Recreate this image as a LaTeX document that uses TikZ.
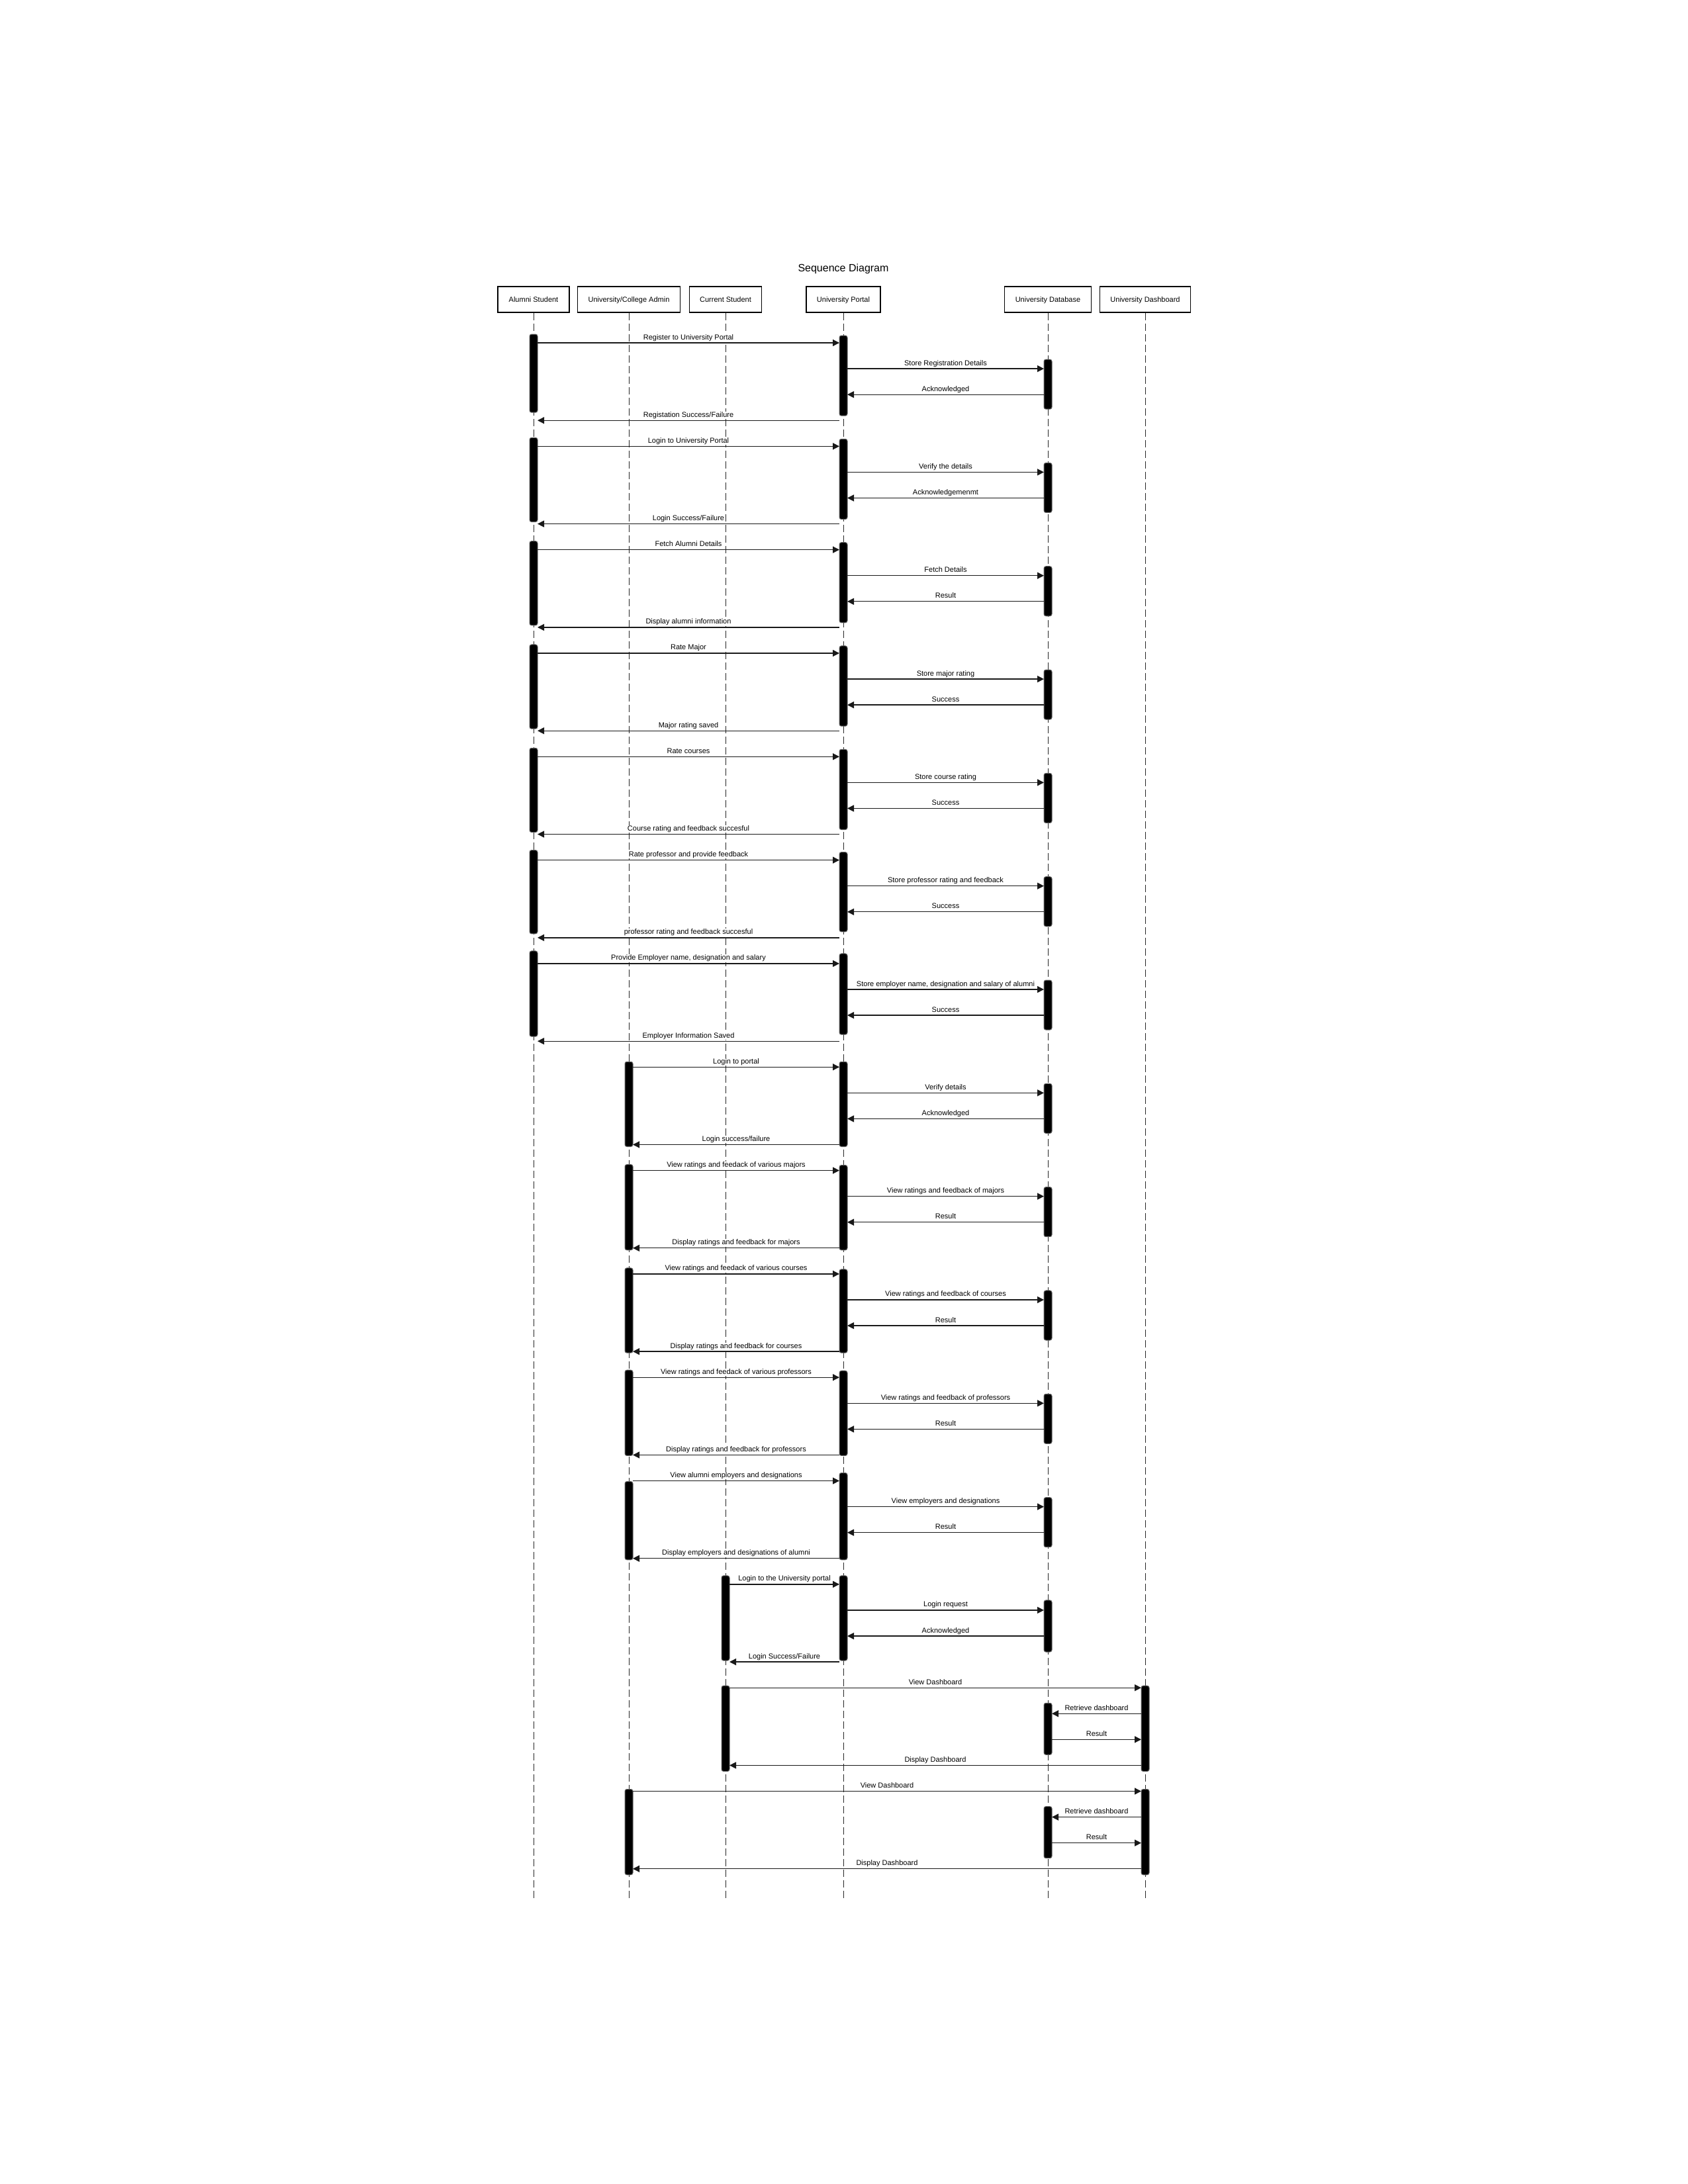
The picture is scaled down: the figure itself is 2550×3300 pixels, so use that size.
\documentclass[tikz,border=0pt]{standalone}
\usepackage{fontspec}
\setmainfont{Liberation Sans}
\usetikzlibrary{arrows.meta}
\tikzset{
  actor/.style={draw=black, line width=1.8pt, fill=white, minimum height=39pt,
    inner sep=0pt, text height=8pt, text depth=0pt, font=\fontsize{11}{13}\selectfont},
  lifeline/.style={draw=black!85, line width=1pt, dash pattern=on 11pt off 5pt},
  bar/.style={fill=black, draw=black!60, line width=1pt, rounded corners=3pt},
  msg/.style={draw=black!90, line width=1.3pt, -{Triangle[length=10pt,width=10pt]}},
  lbl/.style={font=\fontsize{11}{13}\selectfont, fill=white, inner xsep=1pt, inner ysep=0.6pt, anchor=base},
  ttl/.style={font=\fontsize{16}{19}\selectfont, inner sep=0pt, anchor=base},
}
\begin{document}
\begin{tikzpicture}[x=1pt,y=-1pt]
\useasboundingbox (0,0) rectangle (2550,3300);
\fill[white] (0,0) rectangle (2550,3300);
\node[ttl] (title) at (1274,410) {Sequence Diagram};
% actors
\node[actor, minimum width=108pt] (A) at (806,452.5) {Alumni Student};
\node[actor, minimum width=155pt] (B) at (950,452.5) {University/College Admin};
\node[actor, minimum width=109pt] (C) at (1096,452.5) {Current Student};
\node[actor, minimum width=112pt] (P) at (1274,452.5) {University Portal};
\node[actor, minimum width=131pt] (D) at (1583,452.5) {University Database};
\node[actor, minimum width=137pt] (H) at (1730,452.5) {University Dashboard};
% lifelines
\foreach \n/\x in {A/806,B/950,C/1096,P/1274,D/1583,H/1730}{
  \coordinate (\n end) at (\x,2869);
  \draw[lifeline] (\n.south) -- (\n end);
}
% activation bars for portal blocks
\foreach \k/\cx/\sa/\ea/\sp/\ep/\sd/\ed in {
  0/806/-13/-12/-11/-7/-14/22,
  1/806/-13/-3/-11/-7/-14/22,
  2/806/-13/-3/-11/-7/-14/22,
  3/806/-13/-3/-11/-7/-14/22,
  4/806/-13/-3/-11/-7/-14/22,
  5/806/-15/-6/-12/-9/-14/22,
  6/806/-19/-7/-15/-10/-14/22,
  7/950/-8/3/-8/3/-14/22,
  8/950/-9/3/-8/3/-14/22,
  9/950/-9/2/-7/2/-14/22,
  10/950/-11/1/-10/1/-14/22,
  11/950/1/2/-12/2/-14/22,
  12/1096/-13/-2/-13/-2/-15/24}{
  \pgfmathsetmacro\ya{518+(4*\k)*39.08}
  \pgfmathsetmacro\yb{\ya+39.08}
  \pgfmathsetmacro\yc{\ya+2*39.08}
  \pgfmathsetmacro\yd{\ya+3*39.08}
  \draw[bar] (\cx-6,\ya+\sa) rectangle (\cx+6,\yd+\ea);
  \draw[bar] (1268,\ya+\sp) rectangle (1280,\yd+\ep);
  \draw[bar] (1577,\yb+\sd) rectangle (1589,\yc+\ed);
}
% activation bars for dashboard blocks
\foreach \k/\cx in {13/1096,14/950}{
  \pgfmathsetmacro\ya{518+(4*\k)*39.08}
  \pgfmathsetmacro\yb{\ya+39.08}
  \pgfmathsetmacro\yc{\ya+2*39.08}
  \pgfmathsetmacro\yd{\ya+3*39.08}
  \draw[bar] (\cx-6,\ya-3) rectangle (\cx+6,\yd+9);
  \draw[bar] (1724,\ya-3) rectangle (1736,\yd+9);
  \draw[bar] (1577,\yb-16) rectangle (1589,\yc+23);
}
% messages
\foreach \i/\s/\d/\t in {
  1/806/1274/{Register to University Portal},
  2/1274/1583/{Store Registration Details},
  3/1583/1274/{Acknowledged},
  4/1274/806/{Registation Success/Failure},
  5/806/1274/{Login to University Portal},
  6/1274/1583/{Verify the details},
  7/1583/1274/{Acknowledgemenmt},
  8/1274/806/{Login Success/Failure},
  9/806/1274/{Fetch Alumni Details},
  10/1274/1583/{Fetch Details},
  11/1583/1274/{Result},
  12/1274/806/{Display alumni information},
  13/806/1274/{Rate Major},
  14/1274/1583/{Store major rating},
  15/1583/1274/{Success},
  16/1274/806/{Major rating saved},
  17/806/1274/{Rate courses},
  18/1274/1583/{Store course rating},
  19/1583/1274/{Success},
  20/1274/806/{Course rating and feedback succesful},
  21/806/1274/{Rate professor and provide feedback},
  22/1274/1583/{Store professor rating and feedback},
  23/1583/1274/{Success},
  24/1274/806/{professor rating and feedback succesful},
  25/806/1274/{Provide Employer name, designation and salary},
  26/1274/1583/{Store employer name, designation and salary of alumni},
  27/1583/1274/{Success},
  28/1274/806/{Employer Information Saved},
  29/950/1274/{Login to portal},
  30/1274/1583/{Verify details},
  31/1583/1274/{Acknowledged},
  32/1274/950/{Login success/failure},
  33/950/1274/{View ratings and feedack of various majors},
  34/1274/1583/{View ratings and feedback of majors},
  35/1583/1274/{Result},
  36/1274/950/{Display ratings and feedback for majors},
  37/950/1274/{View ratings and feedack of various courses},
  38/1274/1583/{View ratings and feedback of courses},
  39/1583/1274/{Result},
  40/1274/950/{Display ratings and feedback for courses},
  41/950/1274/{View ratings and feedack of various professors},
  42/1274/1583/{View ratings and feedback of professors},
  43/1583/1274/{Result},
  44/1274/950/{Display ratings and feedback for professors},
  45/950/1274/{View alumni employers and designations},
  46/1274/1583/{View employers and designations},
  47/1583/1274/{Result},
  48/1274/950/{Display employers and designations of alumni},
  49/1096/1274/{Login to the University portal},
  50/1274/1583/{Login request},
  51/1583/1274/{Acknowledged},
  52/1274/1096/{Login Success/Failure},
  53/1096/1730/{View Dashboard},
  54/1730/1583/{Retrieve dashboard},
  55/1583/1730/{Result},
  56/1730/1096/{Display Dashboard},
  57/950/1730/{View Dashboard},
  58/1730/1583/{Retrieve dashboard},
  59/1583/1730/{Result},
  60/1730/950/{Display Dashboard}}{
  \pgfmathsetmacro\y{518+(\i-1)*39.08}
  \pgfmathsetmacro\sg{sign(\d-\s)}
  \pgfmathsetmacro\xa{\s+6*\sg}
  \pgfmathsetmacro\xb{\d-6*\sg}
  \pgfmathsetmacro\xm{(\s+\d)/2}
  \coordinate (m\i a) at (\xa,\y);
  \coordinate (m\i b) at (\xb,\y);
  \draw[msg] (m\i a) -- (m\i b);
  \node[lbl] (l\i) at (\xm,\y-5) {\t};
}
\end{tikzpicture}
\end{document}
